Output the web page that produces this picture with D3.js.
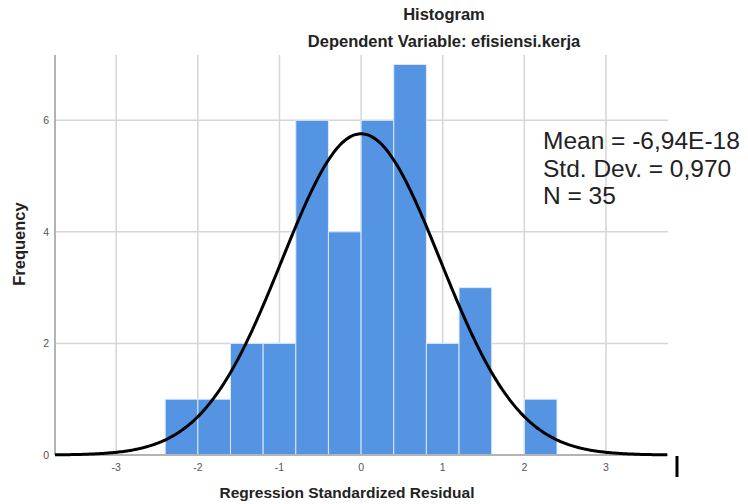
<!DOCTYPE html>
<html>
<head>
<meta charset="utf-8">
<script src="https://cdn.jsdelivr.net/npm/d3@7"></script>
<style>
  body { margin: 0; background: #fff; }
  svg { display: block; font-family: "Liberation Sans", Arial, sans-serif; }
</style>
</head>
<body>
<svg id="chart"></svg>
<script>
// histogram bins (lower edge, width 0.4) and counts
const binStarts = [-2.4, -2.0, -1.6, -1.2, -0.8, -0.4, 0.0, 0.4, 0.8, 1.2, 1.6, 2.0];
const counts    = [1, 1, 2, 2, 6, 4, 6, 7, 2, 3, 0, 1];
const binWidth = 0.4;

const xTicks = [-3, -2, -1, 0, 1, 2, 3];
const yTicks = [0, 2, 4, 6];

const statMean = -6.94e-18;
const statSd = 0.970;
const statN = 35;
const statLines = ['Mean = -6,94E-18', 'Std. Dev. = 0,970', 'N = 35'];

const W = 748, H = 504;
const margin = { top: 55, right: 80, bottom: 49, left: 55 };
const width = W - margin.left - margin.right;
const height = H - margin.top - margin.bottom;

const svg = d3.select('#chart').attr('width', W).attr('height', H);

const xScale = d3.scaleLinear().domain([-3.75, 3.76]).range([margin.left, margin.left + width]);
const yScale = d3.scaleLinear().domain([0, 7.17]).range([margin.top + height, margin.top]);

// grid
svg.append('g')
  .selectAll('line')
  .data(xTicks)
  .enter()
  .append('line')
  .attr('x1', d => xScale(d)).attr('x2', d => xScale(d))
  .attr('y1', margin.top).attr('y2', margin.top + height)
  .attr('stroke', '#d6d6d6')
  .attr('stroke-width', 1.5);

svg.append('g')
  .selectAll('line')
  .data(yTicks.filter(d => d > 0))
  .enter()
  .append('line')
  .attr('x1', margin.left).attr('x2', margin.left + width)
  .attr('y1', d => yScale(d)).attr('y2', d => yScale(d))
  .attr('stroke', '#d6d6d6')
  .attr('stroke-width', 1.5);

// bars
svg.append('g')
  .selectAll('rect')
  .data(binStarts.map((b, i) => ({ x0: b, x1: b + binWidth, n: counts[i] })).filter(d => d.n > 0))
  .enter()
  .append('rect')
  .attr('x', d => xScale(d.x0))
  .attr('y', d => yScale(d.n))
  .attr('width', d => xScale(d.x1) - xScale(d.x0))
  .attr('height', d => yScale(0) - yScale(d.n))
  .attr('fill', '#5594e3')
  .attr('stroke', '#dce9fa')
  .attr('stroke-width', 1);

// axes lines
svg.append('line')
  .attr('x1', margin.left).attr('x2', margin.left)
  .attr('y1', margin.top).attr('y2', margin.top + height)
  .attr('stroke', '#b3b3b3').attr('stroke-width', 2);
svg.append('line')
  .attr('x1', margin.left).attr('x2', margin.left + width)
  .attr('y1', margin.top + height).attr('y2', margin.top + height)
  .attr('stroke', '#b3b3b3').attr('stroke-width', 2);

// normal curve from the reported stats
const scaleN = statN * binWidth;
const curvePts = d3.range(-3.75, 3.7601, 0.02).map(v => [
  v, scaleN / (statSd * Math.sqrt(2 * Math.PI)) * Math.exp(-0.5 * Math.pow((v - statMean) / statSd, 2))
]);
svg.append('path')
  .datum(curvePts)
  .attr('fill', 'none')
  .attr('stroke', '#000')
  .attr('stroke-width', 3)
  .attr('d', d3.line().x(d => xScale(d[0])).y(d => yScale(d[1])).curve(d3.curveBasis));

// tick labels
svg.append('g')
  .selectAll('text')
  .data(xTicks)
  .enter()
  .append('text')
  .attr('x', d => xScale(d))
  .attr('y', margin.top + height + 16)
  .attr('text-anchor', 'middle')
  .style('font-size', '10.5px')
  .attr('fill', '#555')
  .text(d => d);

svg.append('g')
  .selectAll('text')
  .data(yTicks)
  .enter()
  .append('text')
  .attr('x', margin.left - 6)
  .attr('y', d => yScale(d) + 4)
  .attr('text-anchor', 'end')
  .style('font-size', '10.5px')
  .attr('fill', '#555')
  .text(d => d);

// titles
svg.append('text')
  .attr('x', 444).attr('y', 20)
  .attr('text-anchor', 'middle')
  .style('font-size', '16.5px').style('font-weight', 'bold')
  .attr('fill', '#222')
  .text('Histogram');
svg.append('text')
  .attr('x', 444).attr('y', 47)
  .attr('text-anchor', 'middle')
  .style('font-size', '16.5px').style('font-weight', 'bold')
  .attr('fill', '#222')
  .text('Dependent Variable: efisiensi.kerja');

svg.append('text')
  .attr('x', 347).attr('y', 498)
  .attr('text-anchor', 'middle')
  .style('font-size', '15.5px').style('font-weight', 'bold')
  .attr('fill', '#222')
  .text('Regression Standardized Residual');

svg.append('text')
  .attr('transform', 'rotate(-90)')
  .attr('x', -244).attr('y', 25)
  .attr('text-anchor', 'middle')
  .style('font-size', '16.5px').style('font-weight', 'bold')
  .attr('fill', '#222')
  .text('Frequency');

// stats box text
svg.append('g')
  .selectAll('text')
  .data(statLines)
  .enter()
  .append('text')
  .attr('x', 543)
  .attr('y', (d, i) => 149 + i * 27.5)
  .style('font-size', '24.5px')
  .attr('fill', '#222')
  .text(d => d);

// small cursor mark at bottom right
svg.append('line')
  .attr('x1', 677).attr('x2', 677)
  .attr('y1', 456).attr('y2', 477)
  .attr('stroke', '#000').attr('stroke-width', 3);
</script>
</body>
</html>
